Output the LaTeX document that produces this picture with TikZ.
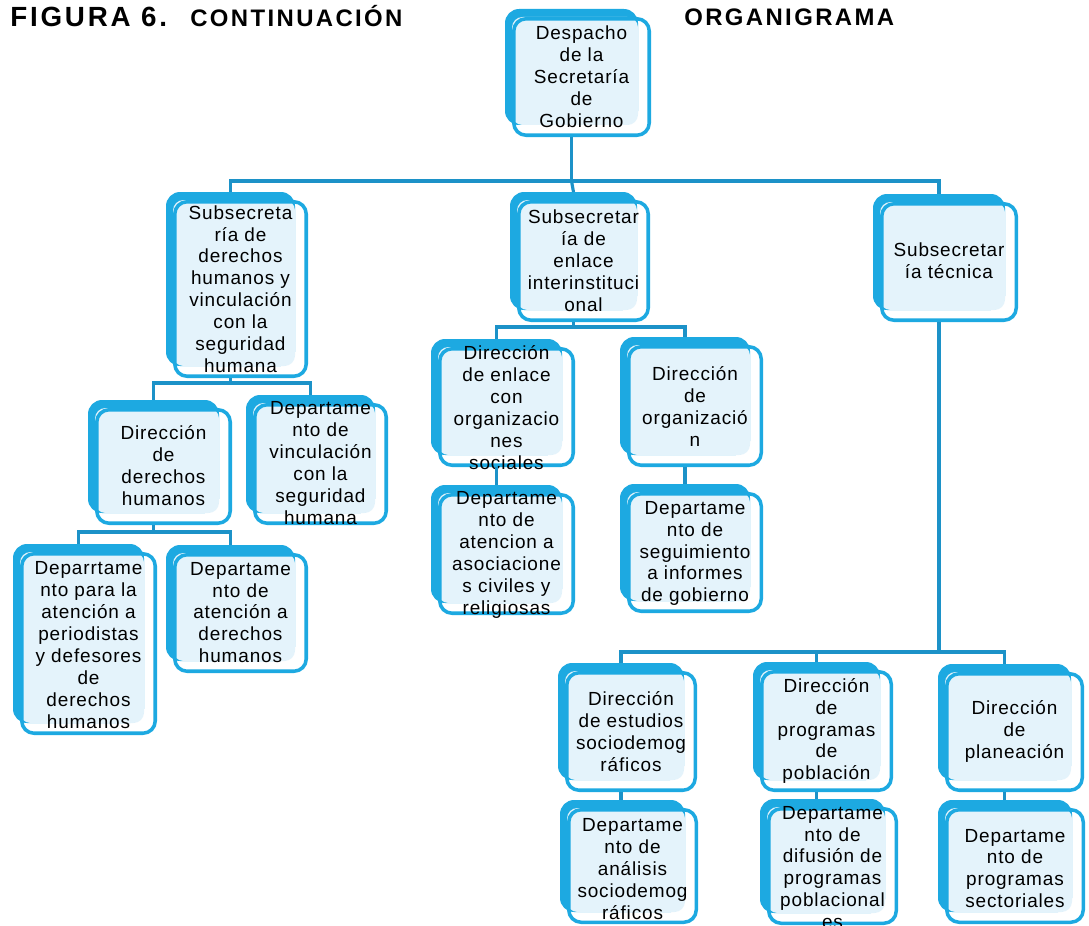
\documentclass[tikz,border=0pt]{standalone}
\usepackage{fontspec}
\setmainfont{Liberation Sans}
\newfontfamily\bodyfont[LetterSpace=4.5]{Liberation Sans}
\newfontfamily\titlefont[LetterSpace=10]{Liberation Sans}
\definecolor{boxblue}{RGB}{29,169,225}
\definecolor{boxlight}{RGB}{228,243,251}
\definecolor{connblue}{RGB}{28,146,200}
\tikzset{
 frontbox/.style={draw=boxblue, line width=2pt, rounded corners=7pt, inner sep=0pt},
 txt/.style={align=center, inner sep=0pt, font=\bodyfont\fontsize{10.8pt}{12.47pt}\selectfont},
 conn/.style={draw=connblue, line width=1.8pt},
 ttl/.style={anchor=base west, inner sep=0pt, font=\titlefont\bfseries}
}
\newcommand\obox[7]{%
 \fill[boxblue, rounded corners=8pt] (#2-7,#3-8) rectangle (#4-13,#5-12);
 \fill[boxlight, rounded corners=6pt] (#2,#3) rectangle (#4-13,#5-12);
 \node[frontbox, minimum width={(#4-#2-3.5)*0.02cm}, minimum height={(#5-#3-3.5)*0.02cm}] (#1) at ({(#2+#4)/2},{(#3+#5)/2}) {};
 \coordinate (#1-t) at ({(#2+#4)/2-10},#3-8);
 \coordinate (#1-b) at ({(#2+#4)/2-10},#5);
 \node[txt] (#1-l) at ({(#2+#4)/2},#6) {#7};
}
\begin{document}
\begin{tikzpicture}[x=0.02cm, y=-0.02cm]
\fill[white] (0,0) rectangle (1089,926);
\useasboundingbox (0,0) rectangle (1089,926);

\node[ttl, font=\titlefont\bfseries\fontsize{15.8pt}{18pt}\selectfont] (t1) at (10,27) {FIGURA 6.};
\node[ttl, font=\titlefont\bfseries\fontsize{13.6pt}{16pt}\selectfont] (t2) at (190,27) {CONTINUACIÓN};
\node[ttl, font=\titlefont\bfseries\fontsize{13.6pt}{16pt}\selectfont] (t3) at (684,26) {ORGANIGRAMA};

\obox{root}{512}{17}{651}{137}{77}{Despacho\\de la\\Secretaría\\de\\Gobierno}
\obox{sub1}{173}{200}{308}{378}{289}{Subsecreta\\ría de\\derechos\\humanos y\\vinculación\\con la\\seguridad\\humana}
\obox{sub2}{517}{200}{650}{322}{260.5}{Subsecretar\\ía de\\enlace\\interinstituci\\onal}
\obox{sub3}{880}{202}{1018}{322}{261}{Subsecretar\\ía técnica}
\obox{dirDH}{95}{408}{232}{525}{465.5}{Dirección\\de\\derechos\\humanos}
\obox{deptVinc}{253}{403}{388}{525}{463}{Departame\\nto de\\vinculación\\con la\\seguridad\\humana}
\obox{deptPer}{20}{552}{157}{735}{645}{Deparrtame\\nto para la\\atención a\\periodistas\\y defesores\\de\\derechos\\humanos}
\obox{deptAtDH}{173}{553}{308}{673}{612.5}{Departame\\nto de\\atención a\\derechos\\humanos}
\obox{dirEnl}{438}{347}{575}{467}{407.5}{Dirección\\de enlace\\con\\organizacio\\nes\\sociales}
\obox{dirOrg}{627}{345}{763}{467}{406.5}{Dirección\\de\\organizació\\n}
\obox{deptAsoc}{438}{493}{575}{615}{555}{Departame\\nto de\\atencion a\\asociacione\\s civiles y\\religiosas}
\obox{deptSeg}{627}{492}{763}{613}{553.5}{Departame\\nto de\\seguimiento\\a informes\\de gobierno}
\obox{dirEst}{565}{671}{697}{792}{731.5}{Dirección\\de estudios\\sociodemog\\ráficos}
\obox{dirProg}{760}{670}{893}{792}{731}{Dirección\\de\\programas\\de\\población}
\obox{dirPlan}{945}{672}{1084}{792}{731.5}{Dirección\\de\\planeación}
\obox{deptAnal}{567}{808}{698}{924}{869}{Departame\\nto de\\análisis\\sociodemog\\ráficos}
\obox{deptDif}{767}{807}{898}{925}{867.5}{Departame\\nto de\\difusión de\\programas\\poblacional\\es}
\obox{deptSect}{945}{808}{1085}{924}{868.5}{Departame\\nto de\\programas\\sectoriales}

\coordinate (busA) at (0,181);
\coordinate (busB) at (0,383);
\coordinate (busC) at (0,532);
\coordinate (busD) at (0,327);
\coordinate (busE) at (0,652);

\draw[conn] (root-b) -- (root-b |- busA) -| (sub1-t);
\draw[conn] (root-b |- busA) -| (sub3-t);
\draw[conn] (root-b |- busA) -- (sub2-t);

\draw[conn] (sub1-b) -- (sub1-b |- busB) -| (dirDH-t);
\draw[conn] (sub1-b |- busB) -| (deptVinc-t);

\draw[conn] (dirDH-b) -- (dirDH-b |- busC) -| (deptPer-t);
\draw[conn] (dirDH-b |- busC) -| (deptAtDH-t);

\draw[conn] (sub2-b) -- (sub2-b |- busD) -| (dirEnl-t);
\draw[conn] (sub2-b |- busD) -| (dirOrg-t);
\draw[conn] (dirEnl-b) -- (dirEnl-b |- deptAsoc-t);
\draw[conn] (dirOrg-b) -- (dirOrg-b |- deptSeg-t);

\draw[conn] (sub3-b) -- (sub3-b |- busE) -| (dirEst-t);
\draw[conn] (sub3-b |- busE) -| (dirProg-t);
\draw[conn] (sub3-b |- busE) -| (dirPlan-t);
\draw[conn] (dirEst-b) -- (dirEst-b |- deptAnal-t);
\draw[conn] (dirProg-b) -- (dirProg-b |- deptDif-t);
\draw[conn] (dirPlan-b) -- (dirPlan-b |- deptSect-t);
\end{tikzpicture}
\end{document}
